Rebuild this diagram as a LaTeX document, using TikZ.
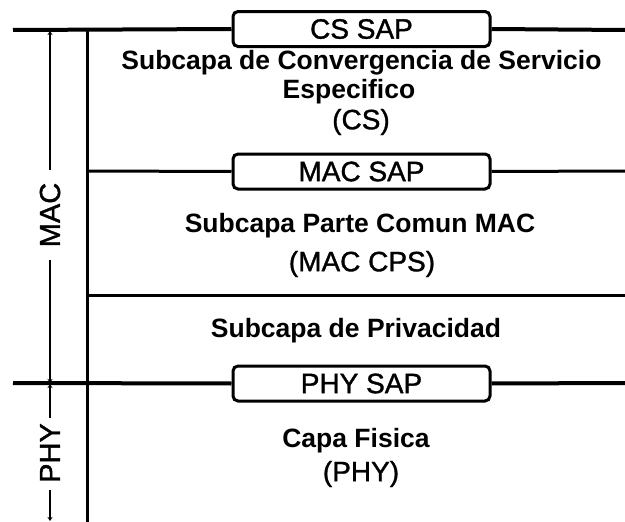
\documentclass[tikz,border=0pt]{standalone}
\usepackage{fontspec}
\setmainfont{Liberation Sans}
\newfontfamily\medfont[FakeBold=1.2]{Liberation Sans}
\usetikzlibrary{arrows.meta}
\begin{document}
\begin{tikzpicture}[x=1pt,y=-1pt,
  sapbox/.style={draw,line width=3pt,rounded corners=5pt,minimum width=257pt,minimum height=35pt,inner sep=0pt,font=\medfont\fontsize{28}{30}\selectfont},
  bold/.style={font=\fontsize{26.5}{29}\selectfont\bfseries,inner sep=0pt},
  reg/.style={font=\medfont\fontsize{28}{30}\selectfont,inner sep=0pt},
  side/.style={font=\medfont\fontsize{29}{30}\selectfont,inner sep=0pt,rotate=90},
  thick line/.style={line width=4pt},
  mid line/.style={line width=3pt},
  arr/.style={line width=2.5pt,-{Stealth[length=4pt,width=5pt]}}
]
\useasboundingbox (0,0) rectangle (625,522);
% coordinates
\coordinate (tl) at (13,30);
\coordinate (tr) at (625,30);
\coordinate (ml) at (87,171);
\coordinate (mr) at (625,171);
\coordinate (pl) at (87,295);
\coordinate (pr) at (625,295);
\coordinate (hl) at (13,383);
\coordinate (hr) at (625,383);
\coordinate (vt) at (87,30);
\coordinate (vb) at (87,522);
% SAP boxes
\node[sapbox] (cs) at (361.5,29) {CS SAP};
\node[sapbox] (mac) at (361.5,171.5) {MAC SAP};
\node[sapbox] (phy) at (361.5,383.5) {PHY SAP};
% horizontal lines
\draw[thick line] (tl) -- (cs.west);
\draw[thick line] (cs.east) -- (tr);
\draw[mid line] (ml) -- (mac.west);
\draw[mid line] (mac.east) -- (mr);
\draw[mid line] (pl) -- (pr);
\draw[thick line] (hl) -- (phy.west);
\draw[thick line] (phy.east) -- (hr);
\draw[mid line] (vt) -- (vb);
% texts
\node[bold] (t1) at (361.5,63) {Subcapa de Convergencia de Servicio};
\node[bold] (t2) at (349,92) {Especifico};
\node[reg] (t3) at (361,122) {(CS)};
\node[bold] (t4) at (360,226) {Subcapa Parte Comun MAC};
\node[reg] (t5) at (362,264) {(MAC CPS)};
\node[bold] (t6) at (356,331) {Subcapa de Privacidad};
\node[bold] (t7) at (356,441) {Capa Fisica};
\node[reg] (t8) at (361,474) {(PHY)};
% side labels
\node[side] (maclab) at (50,215) {MAC};
\node[side] (phylab) at (50,453) {PHY};
\coordinate (macGapTop) at (50,170);
\coordinate (macGapBot) at (50,260);
\coordinate (phyGapTop) at (50,418);
\coordinate (phyGapBot) at (50,490);
\coordinate (macTop) at (50,31);
\coordinate (macBot) at (50,383);
\coordinate (phyTop) at (50,384);
\coordinate (phyBot) at (50,521);
\draw[arr] (macGapTop) -- (macTop);
\draw[arr] (macGapBot) -- (macBot);
\draw[arr] (phyGapTop) -- (phyTop);
\draw[arr] (phyGapBot) -- (phyBot);
\end{tikzpicture}
\end{document}
